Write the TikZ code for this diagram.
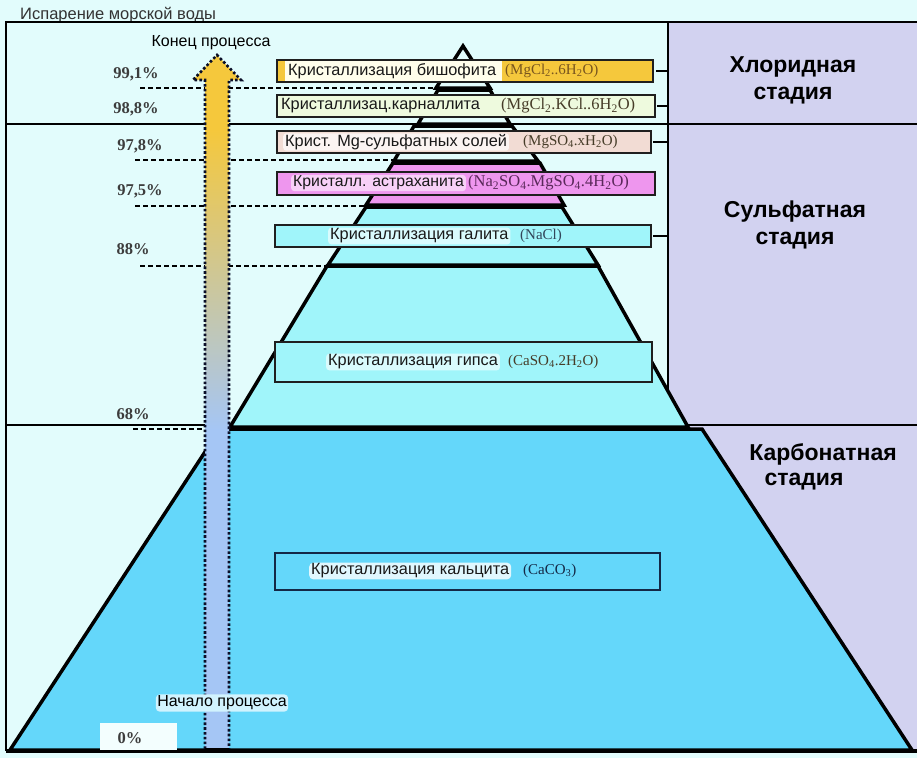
\documentclass[tikz,border=0pt]{standalone}
\usepackage{fontspec}
\setmainfont{Liberation Serif}
\newfontfamily\arialf{Liberation Sans}
\definecolor{bgc}{RGB}{226,252,252}
\definecolor{lav}{RGB}{210,210,240}
\definecolor{calc}{RGB}{100,215,250}
\definecolor{aqua}{RGB}{160,245,250}
\definecolor{pinkc}{RGB}{238,150,238}
\definecolor{goldc}{RGB}{245,200,60}
\definecolor{carn}{RGB}{238,250,222}
\definecolor{mgc}{RGB}{242,220,212}
\definecolor{arrblue}{RGB}{165,198,245}
\definecolor{midarr}{RGB}{215,205,180}
\definecolor{pct}{RGB}{60,60,60}
\definecolor{frm}{RGB}{70,60,40}
\definecolor{navy}{RGB}{20,40,70}
\definecolor{dotc}{RGB}{10,15,40}
\tikzset{
  pyr/.style={draw=black, line width=3.5pt, line join=miter},
  box/.style={draw=black!88, line width=1.8pt, inner sep=0pt},
  rus/.style={font=\arialf\fontsize{16.3}{18}\selectfont, text=black!90, inner xsep=2pt, inner ysep=1pt, anchor=west},
  form/.style={font=\fontsize{15}{16}\selectfont, text=frm, inner sep=1pt, anchor=west},
  pctl/.style={font=\bfseries\fontsize{16.5}{18}\selectfont, text=pct},
  stage/.style={font=\arialf\bfseries\fontsize{23}{27}\selectfont, align=center},
  dline/.style={line width=1.6pt, dash pattern=on 5pt off 3pt},
  dotline/.style={line width=2.6pt, draw=dotc, dash pattern=on 2.6pt off 2.2pt},
  tick/.style={line width=2pt}
}
\begin{document}
\begin{tikzpicture}[x=1pt,y=-1pt]
\useasboundingbox (0,0) rectangle (917,758);
% background
\fill[bgc] (0,0) rectangle (917,758);
\fill[lav] (668,22) rectangle (917,751);
% title
\node[font=\arialf\fontsize{16.5}{18}\selectfont, text=black!80, anchor=west, inner sep=0pt] (title) at (20,15) {Испарение морской воды};
% stage divider lines
\draw[line width=1.5pt] (668,22) -- (668,392);
\draw[line width=2.5pt] (6,124) -- (917,124);
\draw[line width=1.5pt] (6,425) -- (917,425);
% dashed level lines
\draw[dline] (140,88) -- (437,88);
\draw[dline] (135,160) -- (395,160);
\draw[dline] (135,206) -- (366,206);
\draw[dline] (140,266) -- (327,266);
\draw[dline] (133,429) -- (220,429);
% pyramid
\filldraw[pyr, fill=calc] (10,750) -- (912,750) -- (702,429) -- (220,429) -- cycle;
\filldraw[pyr, fill=aqua] (230,427) -- (688,427) -- (598,266) -- (327,266) -- cycle;
\filldraw[pyr, fill=aqua] (328,265) -- (598,265) -- (562,207) -- (366,207) -- cycle;
\filldraw[pyr, fill=pinkc] (366,205) -- (564,205) -- (540,163) -- (393,163) -- cycle;
\filldraw[pyr, fill=bgc] (394,161) -- (538,161) -- (512,126) -- (414,126) -- cycle;
\filldraw[pyr, fill=bgc] (418,124) -- (510,124) -- (490,90) -- (438,90) -- cycle;
\filldraw[pyr, fill=bgc] (436,88) -- (490,88) -- (463,46) -- cycle;
\draw[line width=1.5pt] (6,425) -- (230,425);
% frame
\draw[line width=1.5pt] (917,22) -- (6,22) -- (6,751);
\draw[line width=3.5pt] (6,751) -- (917,751);
% ticks
\draw[tick] (656,71) -- (668,71);
\draw[tick] (657,106) -- (668,106);
\draw[tick] (653,142) -- (668,142);
\draw[tick] (653,236) -- (668,236);
% boxes
\node[box, fill=goldc, minimum width=376pt, minimum height=22pt] (b1) at (465,71) {};
\fill[white!92!yellow] (285,61) rectangle (502,81);
\node[box, fill=carn, minimum width=378pt, minimum height=22pt] (b2) at (466,106) {};
\node[box, fill=mgc, minimum width=374pt, minimum height=22pt] (b3) at (464,142) {};
\node[box, fill=pinkc, minimum width=378pt, minimum height=23pt] (b4) at (466,183.5) {};
\node[box, fill=aqua, minimum width=376pt, minimum height=22pt] (b5) at (463,236) {};
\node[box, fill=aqua, minimum width=377pt, minimum height=40pt] (b6) at (463.5,362) {};
\node[box, draw=navy, fill=calc, minimum width=385pt, minimum height=37pt] (b7) at (467.5,571.5) {};
% box texts
\node[rus] (t1) at (286,71) {Кристаллизация бишофита};
\node[form, text={rgb,255:red,120;green,85;blue,30}] (f1) at (504,71) {(MgCl\textsubscript{2}..6H\textsubscript{2}O)};
\node[rus] (t2) at (279,106) {Кристаллизац.карналлита};
\node[form, font=\fontsize{16.5}{17}\selectfont] (f2) at (500,106) {(MgCl\textsubscript{2}.KCl..6H\textsubscript{2}O)};
\node[rus, fill=white!70!mgc, rounded corners=3pt] (t3) at (283,142) {Крист. Mg-сульфатных солей};
\node[form] (f3) at (522,142) {(MgSO\textsubscript{4}.xH\textsubscript{2}O)};
\node[rus, font=\arialf\fontsize{15.8}{18}\selectfont, fill=white!55!pinkc, rounded corners=3pt] (t4) at (291,183) {Кристалл. астраханита};
\node[form, font=\fontsize{16.5}{17}\selectfont, text={rgb,255:red,90;green,40;blue,90}] (f4) at (467,183) {(Na\textsubscript{2}SO\textsubscript{4}.MgSO\textsubscript{4}.4H\textsubscript{2}O)};
\node[rus, fill=white!60!aqua, rounded corners=3pt] (t5) at (328,236) {Кристаллизация галита};
\node[form, text={rgb,255:red,50;green,70;blue,90}] (f5) at (519,236) {(NaCl)};
\node[rus, fill=white!60!aqua, rounded corners=3pt] (t6) at (326,362) {Кристаллизация гипса};
\node[form] (f6) at (507,362) {(CaSO\textsubscript{4}.2H\textsubscript{2}O)};
\node[rus, fill=white!80!calc, rounded corners=4pt] (t7) at (309,571) {Кристаллизация кальцита};
\node[form, text=navy] (f7) at (522,571) {(CaCO\textsubscript{3})};
% percent labels
\node[pctl] (p1) at (136,74) {99,1\%};
\node[pctl] (p2) at (136,109) {98,8\%};
\node[pctl] (p3) at (140,146) {97,8\%};
\node[pctl] (p4) at (140,191) {97,5\%};
\node[pctl] (p5) at (133,249) {88\%};
\node[pctl] (p6) at (133,414) {68\%};
\node[fill=white!60!bgc, minimum width=77pt, minimum height=27pt, inner sep=0pt] (z0box) at (138.5,736.5) {};
\node[pctl] (p7) at (130,738) {0\%};
% process arrow
\fill[goldc] (205,80) rectangle (229,131);
\shade[top color=goldc, middle color=midarr, bottom color=arrblue] (205,130) rectangle (229,430);
\fill[arrblue] (205,429) rectangle (229,749);
\fill[goldc] (193,80) -- (217,55) -- (241,80) -- cycle;
\coordinate (ab1) at (205,749);
\coordinate (ab2) at (229,749);
\coordinate (atip) at (217,55);
\draw[dotline] (ab1) -- (205,80) -- (193,80) -- (atip) -- (241,80) -- (229,80) -- (ab2);
\draw[line width=2pt] (ab1) -- (ab2);
\node[font=\arialf\fontsize{16}{18}\selectfont] (end) at (211,43) {Конец процесса};
\node[font=\arialf\fontsize{16}{18}\selectfont, fill=white!70!calc, rounded corners=4pt, inner sep=1.5pt] (start) at (222,703) {Начало процесса};
% stage labels
\node[stage] (s1) at (793,80) {Хлоридная\\стадия};
\node[stage] (s2) at (795,225) {Сульфатная\\стадия};
\node[stage] (s3a) at (823,454) {Карбонатная};
\node[stage] (s3b) at (804,482) {стадия};
\end{tikzpicture}
\end{document}
